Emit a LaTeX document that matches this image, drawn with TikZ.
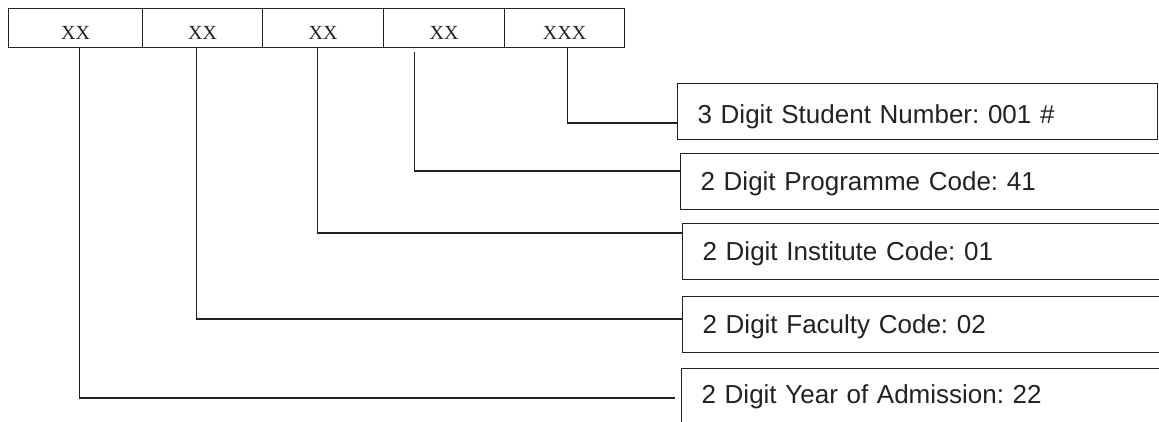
\documentclass[tikz,border=0pt]{standalone}
\usepackage{fontspec}
\setmainfont{Liberation Serif}
\newfontfamily\arialf{Liberation Sans}
\definecolor{ink}{HTML}{222222}
\frenchspacing
\begin{document}
\begin{tikzpicture}[x=1pt,y=-1pt,
  cell/.style={draw=ink,line width=1.2pt,anchor=north west,inner sep=0pt,
    minimum height=39pt,text height=23pt,text depth=0pt,text=ink,
    font=\fontsize{20}{24}\selectfont},
  rbox/.style={draw=ink,line width=1.2pt,anchor=north west,inner xsep=20pt,inner ysep=0pt,
    minimum height=56pt,text height=18pt,text depth=0pt,align=left,text=ink,
    font=\arialf\fontsize{26}{30}\selectfont},
  conn/.style={draw=ink,line width=1.2pt}]
\clip (0,0) rectangle (1159,422);
\fill[white] (0,0) rectangle (1159,422);
% code cells
\node[cell,minimum width=134pt] (c1) at (8,8) {XX};
\node[cell,minimum width=120pt] (c2) at (142,8) {XX};
\node[cell,minimum width=121pt] (c3) at (262,8) {XX};
\node[cell,minimum width=121pt] (c4) at (383,8) {XX};
\node[cell,minimum width=120pt] (c5) at (504,8) {XXX};
% description boxes
\node[rbox,text width=440pt,text height=24pt] (stu) at (677,83) {3 Digit Student Number: 001 \#};
\node[rbox,text width=480pt] (prog) at (680,153) {2 Digit Programme Code: 41};
\node[rbox,text width=480pt] (inst) at (682,223) {2 Digit Institute Code: 01};
\node[rbox,text width=480pt] (fac) at (682,296) {2 Digit Faculty Code: 02};
\node[rbox,text width=480pt,minimum height=53.5pt,text height=17pt] (yr) at (681,368) {2 Digit Year of Admission: 22};
% connectors
\draw[conn] ([xshift=3pt]c5.south) |- ([yshift=-40pt]stu.north west);
\draw[conn] ([xshift=-29.5pt,yshift=-4pt]c4.south) |- ([yshift=-18pt]prog.north west);
\draw[conn] ([xshift=-5.5pt]c3.south) |- ([yshift=-10pt]inst.north west);
\draw[conn] ([xshift=-6pt]c2.south) |- ([yshift=-23pt]fac.north west);
\draw[conn] ([xshift=4pt]c1.south) |- ([xshift=-6pt,yshift=-30pt]yr.north west);
\end{tikzpicture}
\end{document}
